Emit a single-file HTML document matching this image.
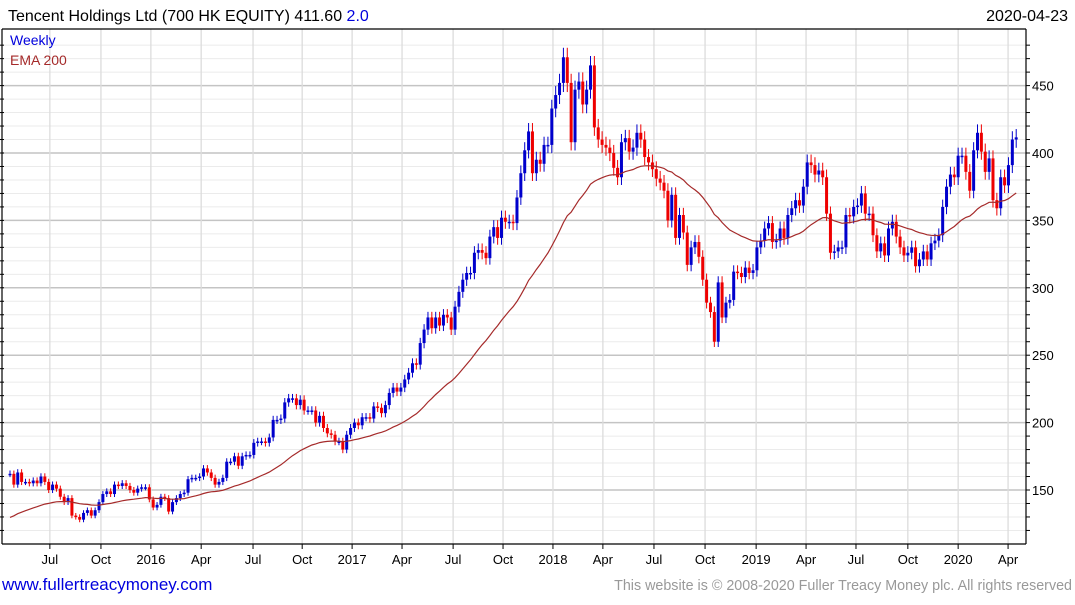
<!DOCTYPE html>
<html><head><meta charset="utf-8"><style>
body{margin:0;background:#fff;width:1075px;height:600px;overflow:hidden;font-family:"Liberation Sans","DejaVu Sans",sans-serif}
svg text{font-family:"Liberation Sans","DejaVu Sans",sans-serif}
</style></head><body>
<svg id="chart" width="1075" height="600" xmlns="http://www.w3.org/2000/svg">
<text x="8" y="21" font-size="16" fill="#000">Tencent Holdings Ltd (700 HK EQUITY) 411.60 <tspan fill="#0000dd">2.0</tspan></text>
<text x="1068" y="21" font-size="16" text-anchor="end" fill="#000">2020-04-23</text>
<g id="grid"></g>
<g id="marks"></g>
<g id="axes"></g>
<text x="10" y="45" font-size="14" fill="#0000dd">Weekly</text>
<text x="10" y="65" font-size="14" fill="#a52a2a">EMA 200</text>
<text x="2" y="590" font-size="17" fill="#0000dd">www.fullertreacymoney.com</text>
<text x="1072" y="590" font-size="14.3" text-anchor="end" fill="#999">This website is © 2008-2020 Fuller Treacy Money plc. All rights reserved</text>
</svg>
<script>
const closes=[162,154,163,156,156,155,157,155,160,156,150,154,151,145,141,144,131,130,128,133,135,131,135,141,147,149,147,154,153,155,153,150,148,151,152,152,
143,137,139,145,144,134,141,144,147,148,158,159,159,160,166,163,159,154,156,159,
171,171,175,168,175,176,176,185,186,186,185,189,202,202,203,215,218,218,213,217,
209,209,209,200,205,196,192,191,186,186,180,191,196,200,198,
204,204,203,212,211,207,213,222,226,223,226,232,237,244,243,259,269,278,270,278,
272,280,278,269,286,297,306,311,311,326,328,326,322,338,345,337,352,349,349,348,
367,385,402,416,385,395,392,406,406,433,443,452,471,452,408,447,453,436,447,465,
419,410,406,404,400,389,382,408,411,401,404,415,410,397,393,388,381,378,372,350,369,337,
354,341,317,330,334,323,306,289,282,260,304,278,289,291,312,311,308,315,311,313,
330,335,344,348,334,335,344,337,354,359,365,361,375,393,391,384,387,382,355,326,
327,330,330,354,353,360,361,370,355,355,339,327,333,324,344,349,338,330,324,326,
330,316,321,327,321,333,335,339,360,375,384,382,398,398,386,372,402,415,401,386,
396,365,359,382,376,391,410,411.6];
const yTicks=[150,200,250,300,350,400,450];
const xTickLabels=["Jul","Oct","2016","Apr","Jul","Oct","2017","Apr","Jul","Oct","2018","Apr","Jul","Oct","2019","Apr","Jul","Oct","2020","Apr"];
const xTickWeeks=[10.3,23.5,36.4,49.4,62.8,75.5,88.4,101.3,114.5,127.4,140.3,153.2,166.4,179.6,192.8,205.7,218.6,232,245,257.9];
const emaSeed=128;
const emaPeriod=40;

const NS="http://www.w3.org/2000/svg";
const L=2,R=1026,T=29,B=544;
function xs(i){return 10+i*3.87;}
function ys(v){return 490-(v-150)*1.348;}
function mk(tag,attrs,parent){const e=document.createElementNS(NS,tag);for(const k in attrs)e.setAttribute(k,attrs[k]);parent.appendChild(e);return e;}
const grid=document.getElementById('grid'),marks=document.getElementById('marks'),axes=document.getElementById('axes');
for(let v=120;v<=480;v+=10){const y=ys(v);if(y<T||y>B)continue;
 const ln=mk('line',{x1:L,x2:R,y1:y,y2:y,stroke:(v%50===0)?'#c4c4c4':'#ebebeb','stroke-width':(v%50===0)?1.5:1},grid);
 
 }
xTickWeeks.forEach((w,i)=>{const x=xs(w);
 const ln=mk('line',{x1:x,x2:x,y1:T,y2:B,stroke:'#dcdcdc','stroke-width':1.3},grid);
 
 
 const t=mk('line',{x1:x,x2:x,y1:B,y2:B+5,stroke:'#000'},axes);
 
 
 const tx=mk('text',{x:x,y:564,'font-size':13,'text-anchor':'middle',fill:'#000'},axes);
 tx.textContent=xTickLabels[i];
 
 });
[[L,T,R,T],[R,T,R,B],[L,B,R,B],[L,T,L,B]].forEach(a=>{const ln=mk('line',{x1:a[0],y1:a[1],x2:a[2],y2:a[3],stroke:'#000','stroke-width':1.2},axes);
 
 });
for(let v=120;v<=480;v+=10){const y=ys(v);if(y<T||y>B)continue;
 const t=mk('line',{x1:R,x2:R+4,y1:y,y2:y,stroke:'#000'},axes);
 
 
 const t2=mk('line',{x1:L-2,x2:L+2,y1:y,y2:y,stroke:'#000'},axes);
 
 }
yTicks.forEach(v=>{const tx=mk('text',{x:1032,y:ys(v)+5,'font-size':13,fill:'#000'},axes);
 tx.textContent=v;
 
 });
closes.forEach((c,i)=>{const o=i===0?c:closes[i-1];
 const hi=Math.max(o,c)*1.015,lo=Math.min(o,c)*0.985;
 const col=c>=o?'#0000cc':'#ee0000';const x=xs(i);
 const w=mk('line',{x1:x,x2:x,y1:ys(hi),y2:ys(lo),stroke:col,'stroke-width':1},marks);
 
 
 const yt=ys(Math.max(o,c)),yb=ys(Math.min(o,c));
 const b=mk('rect',{x:x-1.5,y:yt,width:3,height:Math.max(1.5,yb-yt),fill:col},marks);
 
 });
let e=emaSeed;const a=2/(emaPeriod+1);let d='';
closes.forEach((c,i)=>{e=e+a*(c-e);d+=(i?'L':'M')+xs(i).toFixed(1)+' '+ys(e).toFixed(1);});
const p=mk('path',{d:d,fill:'none',stroke:'#a52a2a','stroke-width':1.2},marks);


</script>
</body></html>
